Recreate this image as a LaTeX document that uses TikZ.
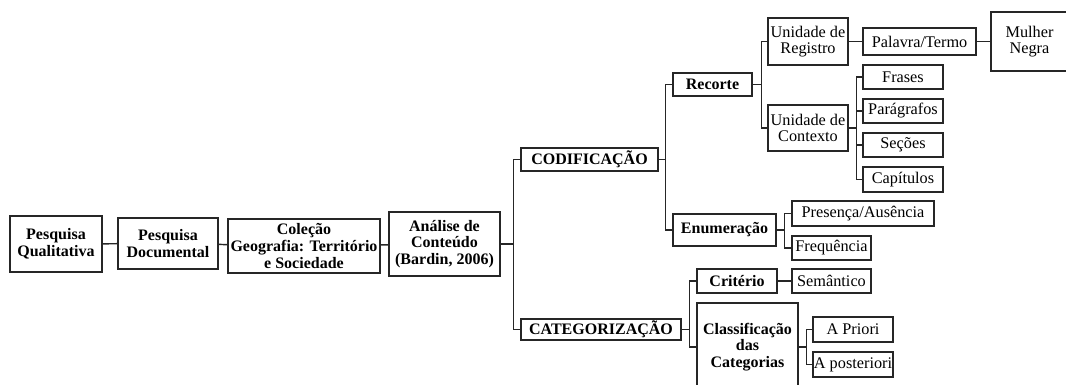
\documentclass[tikz,border=0pt]{standalone}
\usepackage{fontspec}
\setmainfont{Liberation Serif}
\begin{document}
\begin{tikzpicture}[x=0.75pt,y=-0.75pt,
  box/.style 2 args={draw=black!85, line width=1.1pt, inner sep=0pt, align=center,
    minimum width=#1*0.75pt, minimum height=#2*0.75pt,
    font=\fontsize{12.2}{12.5}\selectfont},
  bbox/.style 2 args={box={#1}{#2}, font=\fontsize{12}{12.5}\selectfont\bfseries},
  conn/.style={draw=black!85, line width=1.1pt}]
\useasboundingbox (0,0) rectangle (1066,385);
\clip (0,0) rectangle (1066,385);
% main chain
\node[bbox={92}{56}] (q) at (56,244) {Pesquisa\\Qualitativa};
\node[bbox={100}{51}] (d) at (168,243.5) {Pesquisa\\Documental};
\node[bbox={152}{54}] (c) at (304,246) {Coleção\\Geografia: Território\\e Sociedade};
\node[bbox={111}{64}] (a) at (444.5,244) {Análise de\\Conteúdo\\(Bardin, 2006)};
\node[bbox={137}{23}] (cod) at (589.5,159.5) {CODIFICAÇÃO};
\node[bbox={160}{21}] (cat) at (601,329.5) {CATEGORIZAÇÃO};
% codificacao
\node[bbox={79}{23}] (rec) at (712.5,84.5) {Recorte};
\node[bbox={103}{32}] (enu) at (724.5,230) {Enumeração};
\node[box={80}{47}] (ur) at (808,41.5) {Unidade de\\Registro};
\node[box={80}{46}] (uc) at (808,128) {Unidade de\\Contexto};
\node[box={113}{27}] (pt) at (919.5,41.5) {Palavra/Termo};
\node[box={77}{59}] (mn) at (1029.5,41.5) {Mulher\\Negra};
\node[box={80}{24}] (fr) at (903,77) {Frases};
\node[box={80}{24}] (pa) at (903,111) {Parágrafos};
\node[box={80}{24}] (se) at (903,145) {Seções};
\node[box={80}{25}] (ca) at (903,179.5) {Capítulos};
\node[box={142}{25}] (pr) at (863,213.5) {Presença/Ausência};
\node[box={79}{24}] (fq) at (831.5,248) {Frequência};
% categorizacao
\node[bbox={80}{24}] (cr) at (737,281) {Critério};
\node[bbox={101}{88}] (cl) at (747.5,347) {Classificação\\das\\Categorias};
\node[box={79}{24}] (sm) at (831.5,281) {Semântico};
\node[box={80}{25}] (ap) at (853,329.5) {A Priori};
\node[box={80}{25}] (apo) at (853,364.5) {A posteriori};
% connectors
\draw[conn] (q) -- (d);
\draw[conn] (d) -- (c);
\draw[conn] (c) -- (a);
\draw[conn] (a.east) -- ++(13,0) |- (cod.west);
\draw[conn] (a.east) -- ++(13,0) |- (cat.west);
\draw[conn] (cod.east) -- ++(7,0) |- (rec.west);
\draw[conn] (cod.east) -- ++(7,0) |- (enu.west);
\draw[conn] (rec.east) -- ++(9,0) |- (ur.west);
\draw[conn] (rec.east) -- ++(9,0) |- (uc.west);
\draw[conn] (ur) -- (pt);
\draw[conn] (pt) -- (mn);
\foreach \t in {fr,pa,se,ca}{\draw[conn] (uc.east) -- ++(8,0) |- (\t.west);}
\draw[conn] (enu.east) -- ++(8,0) |- (pr.west);
\draw[conn] (enu.east) -- ++(8,0) |- (fq.west);
\draw[conn] (cat.east) -- ++(8,0) |- (cr.west);
\draw[conn] (cat.east) -- ++(8,0) |- (cl.west);
\draw[conn] (cr) -- (sm);
\draw[conn] (cl.east) -- ++(8,0) |- (ap.west);
\draw[conn] (cl.east) -- ++(8,0) |- (apo.west);
\end{tikzpicture}
\end{document}
